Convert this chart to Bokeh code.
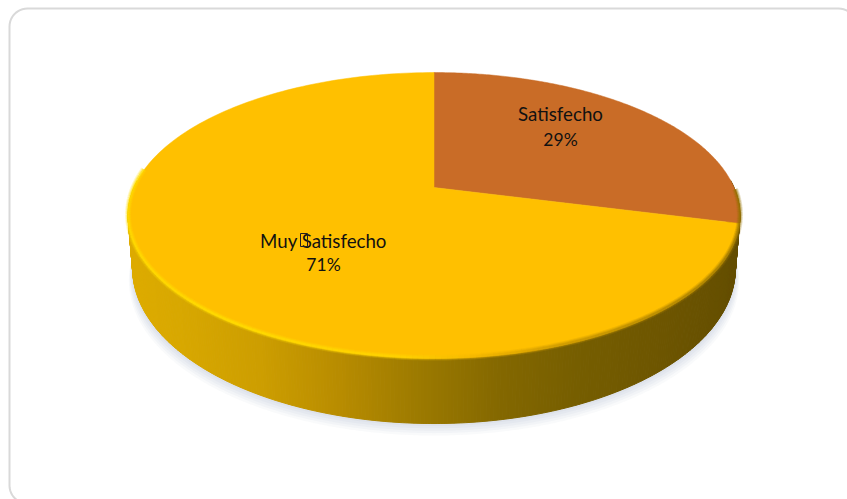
import numpy as np
from bokeh.plotting import figure
from bokeh.embed import file_html
from bokeh.resources import INLINE
from bokeh.core.properties import value
from bokeh.models import Range1d

categories = ["Satisfecho", "Muy Satisfecho"]
shares = [29, 71]
percent_labels = ["29%", "71%"]
slice_colors = ["#C96C27", "#FFC000"]

W, H = 847, 499
p = figure(width=W, height=H, output_backend="svg", toolbar_location=None,
           x_range=Range1d(0, W), y_range=Range1d(H, 0), min_border=0,
           outline_line_color=None, background_fill_color="white", border_fill_color="white")
p.axis.visible = False
p.grid.visible = False

# card outline
def card(x0, y0, x1, y1, r):
    xs, ys = [], []
    for cx, cy, a0 in [(x0 + r, y0 + r, 180), (x1 - r, y0 + r, 270), (x1 - r, y1 - r, 0), (x0 + r, y1 - r, 90)]:
        a = np.radians(np.linspace(a0, a0 + 90, 12))
        xs += list(cx + r * np.cos(a))
        ys += list(cy + r * np.sin(a))
    return xs + xs[:1], ys + ys[:1]
cx_, cy_ = card(9, 8, 856, 503, 18)
p.line(cx_, cy_, line_color="#D9D9D9", line_width=2)

# perspective projection of the pie disc
PX, PY = 433.5, 187.0   # where the slices meet
C, A, K = 300.0, 137.5, 0.196
ELL_Y, DROP, SX, SY = 215.0, 53.0, 0.985, 1.084

def project(theta):
    """theta clockwise from 12 o'clock"""
    u, v = np.sin(theta), np.cos(theta)
    w = 1 + K * v
    return PX + C * u / w, PY - A * v / w

def lower(x, y):
    return PX + SX * (x - PX), ELL_Y + DROP + SY * (y - ELL_Y)

cum = np.cumsum([0] + shares) / sum(shares) * 2 * np.pi
full = np.linspace(0, 2 * np.pi, 721)
tx, ty = project(full)
bx, by = lower(tx, ty)

# soft shadow
for grow, alpha in [(15, 0.10), (12, 0.12), (9, 0.14), (6, 0.18), (3, 0.22)]:
    p.patch(PX + (bx - PX) * (1 + grow / 1200), by + grow * 0.8,
            fill_color="#C8CBDC", fill_alpha=alpha, line_color=None)

# side wall shading
side_stops_x = [127, 180, 260, 340, 420, 500, 580, 660, 740]
side_stops_r = [222, 216, 205, 184, 156, 132, 118, 110, 100]
side_stops_g = [172, 168, 158, 140, 122, 104, 94, 86, 78]
side_stops_b = [0, 0, 0, 0, 0, 0, 0, 0, 0]
front = np.linspace(np.pi / 2 - 0.05, 3 * np.pi / 2 + 0.05, 361)
fx, fy = project(front)
lx, ly = lower(fx, fy)
qx, qy, qc = [], [], []
for i in range(len(front) - 1):
    qx.append([fx[i], fx[i + 1], lx[i + 1], lx[i]])
    qy.append([fy[i], fy[i + 1], ly[i + 1], ly[i]])
    mx = (fx[i] + fx[i + 1]) / 2
    r = np.interp(mx, side_stops_x, side_stops_r)
    g = np.interp(mx, side_stops_x, side_stops_g)
    b = np.interp(mx, side_stops_x, side_stops_b)
    qc.append("#%02x%02x%02x" % (int(r), int(g), int(b)))
p.patches(qx, qy, fill_color=qc, line_color=qc, line_width=1)

# top face slices
for i, col in enumerate(slice_colors):
    th = np.linspace(cum[i], cum[i + 1], 200)
    sx, sy = project(th)
    p.patch([PX] + list(sx), [PY] + list(sy), fill_color=col, line_color=col, line_width=0.5)

# rim bevel of the front edge (bright on the left, dark on the right)
rim_stops_x = [127, 250, 400, 470, 560, 740]
rim_r = [255, 255, 255, 245, 200, 150]
rim_g = [222, 224, 214, 185, 150, 115]
rim = np.linspace(np.pi / 2 + 0.02, 2 * np.pi - 0.02, 300)
ex, ey = project(rim)
for width, alpha in [(6, 0.22), (4, 0.35), (2, 0.6)]:
    mx_, my_, mc = [], [], []
    for i in range(len(rim) - 1):
        if rim[i] > 3 * np.pi / 2 + 0.12:
            continue
        mid = (ex[i] + ex[i + 1]) / 2
        r = np.interp(mid, rim_stops_x, rim_r)
        g = np.interp(mid, rim_stops_x, rim_g)
        mx_.append([ex[i], ex[i + 1]])
        my_.append([ey[i] - 1.0, ey[i + 1] - 1.0])
        mc.append("#%02x%02x00" % (int(r), int(g)))
    p.multi_line(mx_, my_, line_color=mc, line_width=width, line_alpha=alpha)

# labels
label_x = [560, 323]
label_y = [113, 240]
pct_y = [139, 264]
FONT = value("Lato")
p.text(label_x, label_y, text=categories, text_font=FONT, text_font_size="18.7px",
       text_align="center", text_baseline="middle", text_color="#111111")
p.text(label_x, pct_y, text=percent_labels, text_font=FONT, text_font_size="17.5px",
       text_align="center", text_baseline="middle", text_color="#111111")
# the missing-glyph box printed between the two words
p.quad(left=[300], right=[307], top=[233], bottom=[246], fill_color=None,
       line_color="#222222", line_width=1)

open("out.html", "w").write(file_html(p, INLINE))
